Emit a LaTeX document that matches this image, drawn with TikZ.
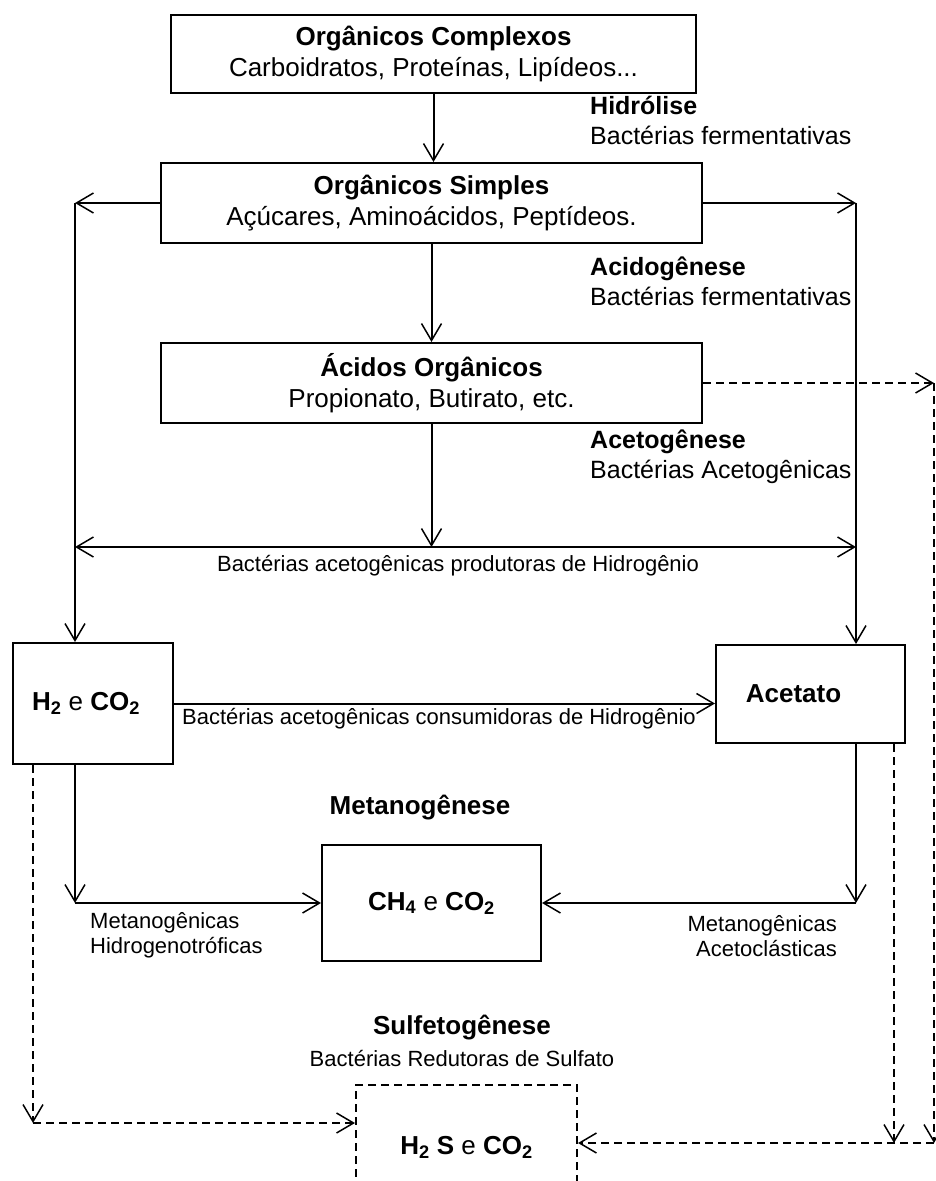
\documentclass[tikz,border=0pt]{standalone}
\usepackage{fontspec}
\setmainfont{Liberation Sans}
\usetikzlibrary{arrows.meta}

\begin{document}
\begin{tikzpicture}[
    x=1pt, y=-1pt,
    >={Straight Barb[length=17pt,width=20pt,line width=1.5pt]},
    caixa/.style={draw, line width=2pt, inner sep=0pt, align=center,
        font=\fontsize{26}{31}\selectfont},
    caixatrac/.style={caixa, dash pattern=on 8pt off 5pt},
    seta/.style={line width=2pt, ->},
    setatrac/.style={seta, dash pattern=on 8pt off 5pt},
    fase/.style={anchor=west, align=left, inner sep=0pt,
        font=\fontsize{25}{30}\selectfont},
    rotulo/.style={inner sep=0pt, font=\fontsize{22}{25}\selectfont},
    titulo/.style={inner sep=0pt, font=\bfseries\fontsize{26}{30}\selectfont}
]
\useasboundingbox (0,0) rectangle (935,1181);

\node[caixa, minimum width=525pt, minimum height=78pt] (complexos) at (433.5,54)
    {\textbf{Orgânicos Complexos}\\Carboidratos, Proteínas, Lipídeos...};
\node[caixa, minimum width=541pt, minimum height=80pt] (simples) at (431.5,203)
    {\textbf{Orgânicos Simples}\\Açúcares, Aminoácidos, Peptídeos.};
\node[caixa, minimum width=541pt, minimum height=80pt] (acidos) at (431.5,383)
    {\textbf{Ácidos Orgânicos}\\Propionato, Butirato, etc.};
\node[caixa, minimum width=160pt, minimum height=121pt] (hidrogenio) at (93,703.5)
    {\textbf{H\textsubscript{2}} e \textbf{CO\textsubscript{2}}\hspace*{14pt}};
\node[caixa, minimum width=189pt, minimum height=98pt] (acetato) at (810.5,694)
    {\textbf{Acetato}\hspace*{34pt}};
\node[caixa, minimum width=219pt, minimum height=116pt] (metano) at (431.5,903)
    {\textbf{CH\textsubscript{4}} e \textbf{CO\textsubscript{2}}};
\node[caixatrac, minimum width=221pt, minimum height=124pt] (sulfato) at (466.5,1147)
    {\textbf{H\textsubscript{2} S} e \textbf{CO\textsubscript{2}}};

\node[fase] (hidrolise) at (590,120) {\textbf{Hidrólise}\\Bactérias fermentativas};
\node[fase] (acidogenese) at (590,281) {\textbf{Acidogênese}\\Bactérias fermentativas};
\node[fase] (acetogenese) at (590,457) {\textbf{Acetogênese}\\Bactérias Acetogênicas};

\coordinate (esq1) at (75,203);
\coordinate (esq2) at (75,547);
\coordinate (esq3) at (75,903);
\coordinate (esq4) at (33,1123);
\coordinate (dir1) at (856,203);
\coordinate (dir2) at (856,547);
\coordinate (dir3) at (934,383);
\coordinate (dir4) at (934,1143);
\coordinate (dir5) at (856,903);
\coordinate (dir6) at (894,1143);

\draw[seta] (complexos.south) -- (complexos.south |- simples.north);
\draw[seta] (simples.south) -- (simples.south |- acidos.north);
\draw[seta] (simples.west) -- (esq1);
\draw[seta] (esq1) -- (esq1 |- hidrogenio.north);
\draw[seta] (simples.east) -- (dir1);
\draw[seta] (dir1) -- (dir1 |- acetato.north);
\draw[seta] (acidos.south) -- (acidos.south |- esq2);
\draw[seta, <->] (esq2) -- (dir2);
\node[rotulo] (produtoras) at (458,566) {Bactérias acetogênicas produtoras de Hidrogênio};

\draw[seta] (hidrogenio.east) -- (hidrogenio.east -| acetato.west);
\node[rotulo, anchor=west] (consumidoras) at (182,719) {Bactérias acetogênicas consumidoras de Hidrogênio};

\node[titulo] (metanogenese) at (420,808) {Metanogênese};
\draw[seta] (esq1 |- hidrogenio.south) -- (esq3);
\draw[seta] (esq3) -- (esq3 -| metano.west);
\draw[seta] (dir1 |- acetato.south) -- (dir5);
\draw[seta] (dir5) -- (dir5 -| metano.east);
\node[rotulo, anchor=west, align=left] (hidrogenotroficas) at (90,935)
    {Metanogênicas\\Hidrogenotróficas};
\node[rotulo, anchor=east, align=right] (acetoclasticas) at (837,936)
    {Metanogênicas\\Acetoclásticas};

\node[titulo] (sulfetogenese) at (462,1028) {Sulfetogênese};
\node[rotulo] (redutoras) at (462,1058) {Bactérias Redutoras de Sulfato};

\draw[setatrac] (acidos.east) -- (dir3);
\draw[setatrac] (dir3) -- (dir4);
\draw[setatrac] (dir4) -- (dir4 -| sulfato.east);
\draw[setatrac] (dir6 |- acetato.south) -- (dir6);
\draw[setatrac] (esq4 |- hidrogenio.south) -- (esq4);
\draw[setatrac] (esq4) -- (esq4 -| sulfato.west);
\end{tikzpicture}
\end{document}
